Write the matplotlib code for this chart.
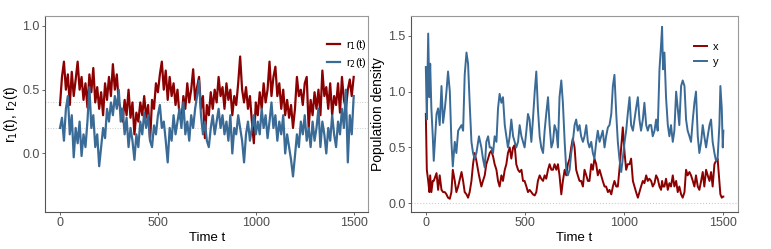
import matplotlib.pyplot as plt
import numpy as np

plt.rcParams['font.family'] = ['Liberation Sans', 'DejaVu Sans']

# left panel: r1(t), r2(t), one value every 10 time units
t_left = np.arange(0, 1501, 10)
r1 = [0.38, 0.6, 0.72, 0.5, 0.62, 0.38, 0.64, 0.45, 0.58, 0.72, 0.5,
      0.6, 0.42, 0.55, 0.36, 0.62, 0.48, 0.67, 0.4, 0.52, 0.35,
      0.48, 0.3, 0.55, 0.42, 0.6, 0.45, 0.7, 0.5, 0.62, 0.4,
      0.35, 0.25, 0.42, 0.3, 0.5, 0.28, 0.4, 0.15, 0.32, 0.25,
      0.4, 0.3, 0.45, 0.28, 0.38, 0.1, 0.42, 0.35, 0.55, 0.48,
      0.62, 0.72, 0.5, 0.65, 0.42, 0.6, 0.45, 0.55, 0.38, 0.5,
      0.3, 0.25, 0.45, 0.35, 0.55, 0.4, 0.5, 0.66, 0.42, 0.52,
      0.6, 0.35, 0.45, 0.12, 0.38, 0.3, 0.48, 0.35, 0.5, 0.4,
      0.6, 0.45, 0.52, 0.35, 0.55, 0.42, 0.5, 0.3, 0.45, 0.38,
      0.55, 0.76, 0.5, 0.4, 0.52, 0.35, 0.45, 0.25, 0.08, 0.4,
      0.3, 0.48, 0.35, 0.55, 0.4, 0.5, 0.72, 0.45, 0.6, 0.68,
      0.45, 0.55, 0.35, 0.5, 0.3, 0.42, 0.28, 0.38, 0.2, 0.35,
      0.6, 0.45, 0.5, 0.38, 0.55, 0.6, 0.2, 0.42, 0.3, 0.48,
      0.35, 0.5, 0.3, 0.65, 0.45, 0.52, 0.35, 0.55, 0.3, 0.45,
      0.38, 0.55, 0.32, 0.6, 0.42, 0.35, 0.5, 0.58, 0.45, 0.6]
r2 = [0.2, 0.28, 0.1, 0.35, 0.45, 0.15, 0.3, -0.03, 0.2, 0.08, 0.25,
      -0.02, 0.15, 0.05, 0.25, 0.52, 0.2, 0.3, 0.05, 0.15, -0.1,
      0.05, 0.2, 0.12, 0.35, 0.25, 0.4, 0.3, 0.45, 0.35, 0.5,
      0.25, 0.35, 0.15, 0.28, 0.05, 0.2, 0.1, -0.05, 0.15, 0.05,
      0.25, 0.15, 0.32, 0.2, 0.3, 0.1, 0.05, 0.22, 0.15, 0.3,
      0.38, 0.2, 0.25, 0.1, -0.07, 0.2, 0.1, 0.3, 0.15, 0.25,
      0.35, 0.2, 0.4, 0.15, 0.25, 0.1, 0.3, 0.2, 0.35, 0.45,
      0.57, 0.3, 0.15, 0.25, 0.1, 0.05, 0.2, 0.3, 0.15, 0.25,
      0.35, 0.2, 0.3, 0.15, 0.25, 0.1, 0.3, 0.0, 0.2, 0.15,
      0.3, 0.2, 0.1, -0.07, 0.15, 0.25, 0.1, 0.2, 0.3, 0.15,
      0.25, 0.15, 0.35, 0.2, 0.3, 0.12, 0.25, 0.4, 0.2, 0.3,
      0.1, 0.25, 0.15, 0.3, 0.0, 0.15, 0.05, -0.05, -0.18, -0.02,
      0.15, 0.05, 0.25, 0.15, 0.3, 0.1, 0.2, 0.05, 0.25, 0.1,
      0.2, 0.35, 0.05, 0.25, 0.15, 0.0, 0.2, 0.1, 0.3, 0.15,
      0.05, 0.25, 0.15, 0.35, 0.2, 0.5, -0.07, 0.3, 0.15, 0.45]
ref_lines_left = [0.4, 0.2]

# right panel: population densities x, y
t_y = [0, 5, 12, 18, 22, 28, 35, 40, 54, 62, 70, 79, 87, 96, 104, 112, 121, 129, 136,
       146, 154, 163, 180, 188, 196, 205, 213, 221, 230, 238, 246, 255, 268, 280, 288,
       297, 305, 314, 322, 330, 339, 347, 356, 364, 372, 381, 389, 398, 406, 414, 423,
       431, 440, 448, 456, 465, 473, 482, 490, 498, 507, 515, 523, 532, 540, 549, 557,
       565, 574, 582, 591, 599, 607, 616, 624, 633, 641, 649, 658, 666, 674, 683, 691,
       700, 708, 716, 725, 733, 741, 750, 758, 766, 775, 783, 792, 800, 809, 817, 825,
       834, 842, 850, 859, 867, 876, 884, 892, 901, 909, 918, 926, 935, 943, 951, 960,
       968, 976, 985, 993, 1002, 1010, 1018, 1027, 1035, 1044, 1052, 1060, 1069, 1077,
       1085, 1094, 1102, 1111, 1119, 1127, 1136, 1144, 1153, 1161, 1169, 1178, 1186,
       1191, 1196, 1203, 1211, 1220, 1228, 1236, 1245, 1253, 1262, 1270, 1278, 1287,
       1295, 1304, 1312, 1320, 1329, 1337, 1346, 1354, 1362, 1371, 1379, 1388, 1396,
       1404, 1413, 1421, 1430, 1438, 1446, 1455, 1463, 1471, 1480, 1485, 1492, 1497, 1500]
y_vals = [1.22, 0.75, 1.52, 0.95, 1.25, 0.85, 0.6, 0.38, 0.8, 0.85, 0.7, 1.05, 0.72, 0.85,
          1.0, 1.18, 1.0, 0.55, 0.33,
          0.55, 0.45, 0.65, 0.7, 0.65, 1.15, 1.35, 1.25, 0.9, 0.55, 0.45, 0.4, 0.45, 0.6,
          0.5, 0.4,
          0.32, 0.55, 0.6, 0.5, 0.5, 0.45, 0.6, 0.55, 0.85, 0.98, 0.9, 0.95, 0.7, 0.6, 0.5,
          0.6,
          0.75, 0.6, 0.55, 0.5, 0.55, 0.7, 0.6, 0.55, 0.5, 0.65, 0.8, 0.75, 0.55, 0.75,
          1.0, 1.18,
          0.85, 0.6, 0.5, 0.45, 0.65, 0.8, 0.95, 0.7, 0.5, 0.55, 0.7, 0.65, 0.5, 0.95,
          1.1, 0.9,
          0.55, 0.3, 0.25, 0.3, 0.45, 0.55, 0.7, 0.75, 0.65, 0.7, 0.6, 0.55, 0.6, 0.7,
          0.55, 0.5,
          0.55, 0.45, 0.4, 0.55, 0.65, 0.55, 0.6, 0.65, 0.5, 0.6, 0.68, 0.7, 0.8, 1.05,
          1.15, 0.8,
          0.55, 0.4, 0.28, 0.4, 0.55, 0.65, 0.8, 0.95, 0.7, 0.65, 0.75, 0.85, 0.95, 0.75,
          0.65, 0.75, 0.9, 0.7, 0.65, 0.7, 0.7, 0.6, 0.65, 0.75, 0.65, 1.2, 1.42,
          1.58, 1.2, 1.35, 0.95, 0.7, 0.6, 0.7, 0.55, 0.65, 1.0, 0.85, 0.7, 1.05,
          1.1, 1.05, 0.75, 0.65, 0.6, 0.55, 0.75, 0.9, 1.0, 0.6, 0.45, 0.55, 0.7,
          0.6, 0.5, 0.6, 0.7, 0.75, 0.55, 0.45, 0.38, 0.4, 0.7, 1.05, 0.85, 0.5, 0.65]
x_vals = [0.8, 0.3, 0.2, 0.1, 0.25, 0.1, 0.2, 0.2, 0.27, 0.12, 0.25, 0.12, 0.1, 0.1,
          0.08, 0.05, 0.04, 0.1, 0.3,
          0.2, 0.1, 0.15, 0.28, 0.2, 0.1, 0.08, 0.05, 0.1, 0.2, 0.35, 0.45, 0.38, 0.25,
          0.15, 0.2,
          0.25, 0.35, 0.4, 0.45, 0.47, 0.42, 0.35, 0.3, 0.2, 0.15, 0.25, 0.2, 0.3, 0.35,
          0.45, 0.5,
          0.4, 0.5, 0.52, 0.35, 0.3, 0.28, 0.3, 0.2, 0.2, 0.15, 0.1, 0.12, 0.1, 0.08,
          0.07, 0.1,
          0.2, 0.25, 0.22, 0.2, 0.25, 0.22, 0.3, 0.35, 0.3, 0.3, 0.35, 0.3, 0.35, 0.25,
          0.08, 0.2,
          0.3, 0.25, 0.35, 0.4, 0.5, 0.58, 0.5, 0.3, 0.25, 0.2, 0.2, 0.15, 0.3, 0.25,
          0.2, 0.2,
          0.35, 0.3, 0.4, 0.35, 0.25, 0.3, 0.25, 0.2, 0.15, 0.15, 0.1, 0.12, 0.08, 0.15,
          0.2, 0.15,
          0.15, 0.3, 0.5, 0.68, 0.45, 0.3, 0.35, 0.35, 0.4, 0.2, 0.15, 0.1, 0.05, 0.1,
          0.15, 0.2, 0.18, 0.25, 0.2, 0.22, 0.2, 0.15, 0.18, 0.25, 0.22, 0.15, 0.12,
          0.2, 0.15, 0.15, 0.22, 0.12, 0.18, 0.15, 0.25, 0.15, 0.2, 0.1, 0.15, 0.08,
          0.05, 0.1, 0.3, 0.25, 0.28, 0.25, 0.2, 0.15, 0.25, 0.15, 0.12, 0.2, 0.28,
          0.15, 0.3, 0.25, 0.2, 0.28, 0.15, 0.35, 0.38, 0.4, 0.2, 0.08, 0.05, 0.06, 0.06]
ref_lines_right = [0.0]

red = '#8B0000'
blue = '#3A6A96'
tick_col = '#4D4D4D'

fig = plt.figure(figsize=(7.71, 2.49), dpi=100)
ax1 = fig.add_axes([0.0588, 0.150, 0.419, 0.787])
ax2 = fig.add_axes([0.533, 0.150, 0.4245, 0.787])


def style(ax):
    for s in ax.spines.values():
        s.set_color('#999999')
        s.set_linewidth(0.8)
    ax.spines['left'].set_color('#555555')
    ax.spines['bottom'].set_color('#555555')
    ax.tick_params(colors=tick_col, labelsize=9, length=2.5, width=0.6, pad=1.5)
    ax.set_xlim(-75, 1575)
    ax.set_xticks([0, 500, 1000, 1500])
    ax.set_xlabel('Time t', fontsize=9.5, color='black', labelpad=2)


for v in ref_lines_left:
    ax1.axhline(v, color='#CCCCCC', lw=0.7, ls=':')
ax1.plot(t_left, r1, color=red, lw=1.6, label=r'r$_1$(t)')
ax1.plot(t_left, r2, color=blue, lw=1.6, label=r'r$_2$(t)')
style(ax1)
ax1.set_ylim(-0.456, 1.08)
ax1.set_yticks([0.0, 0.5, 1.0])
ax1.set_yticklabels(['0.0', '0.5', '1.0'])
ax1.set_ylabel(r'r$_1$(t), r$_2$(t)', fontsize=10, labelpad=2)
ax1.legend(loc='upper right', bbox_to_anchor=(0.995, 0.885), frameon=False, fontsize=8,
           handlelength=1.2, handletextpad=0.5, labelspacing=0.35, borderaxespad=0,
           borderpad=0)

for v in ref_lines_right:
    ax2.axhline(v, color='#CCCCCC', lw=0.8, ls=':')
ax2.plot(t_y, x_vals, color=red, lw=1.4, label='x')
ax2.plot(t_y, y_vals, color=blue, lw=1.4, label='y')
style(ax2)
ax2.set_ylim(-0.075, 1.68)
ax2.set_yticks([0.0, 0.5, 1.0, 1.5])
ax2.set_yticklabels(['0.0', '0.5', '1.0', '1.5'])
ax2.set_ylabel('Population density', fontsize=10, labelpad=2)
ax2.legend(loc='upper right', bbox_to_anchor=(0.94, 0.865), frameon=False, fontsize=8,
           handlelength=1.2, handletextpad=0.5, labelspacing=0.45, borderaxespad=0,
           borderpad=0)

fig.savefig('out.png', dpi=100)
